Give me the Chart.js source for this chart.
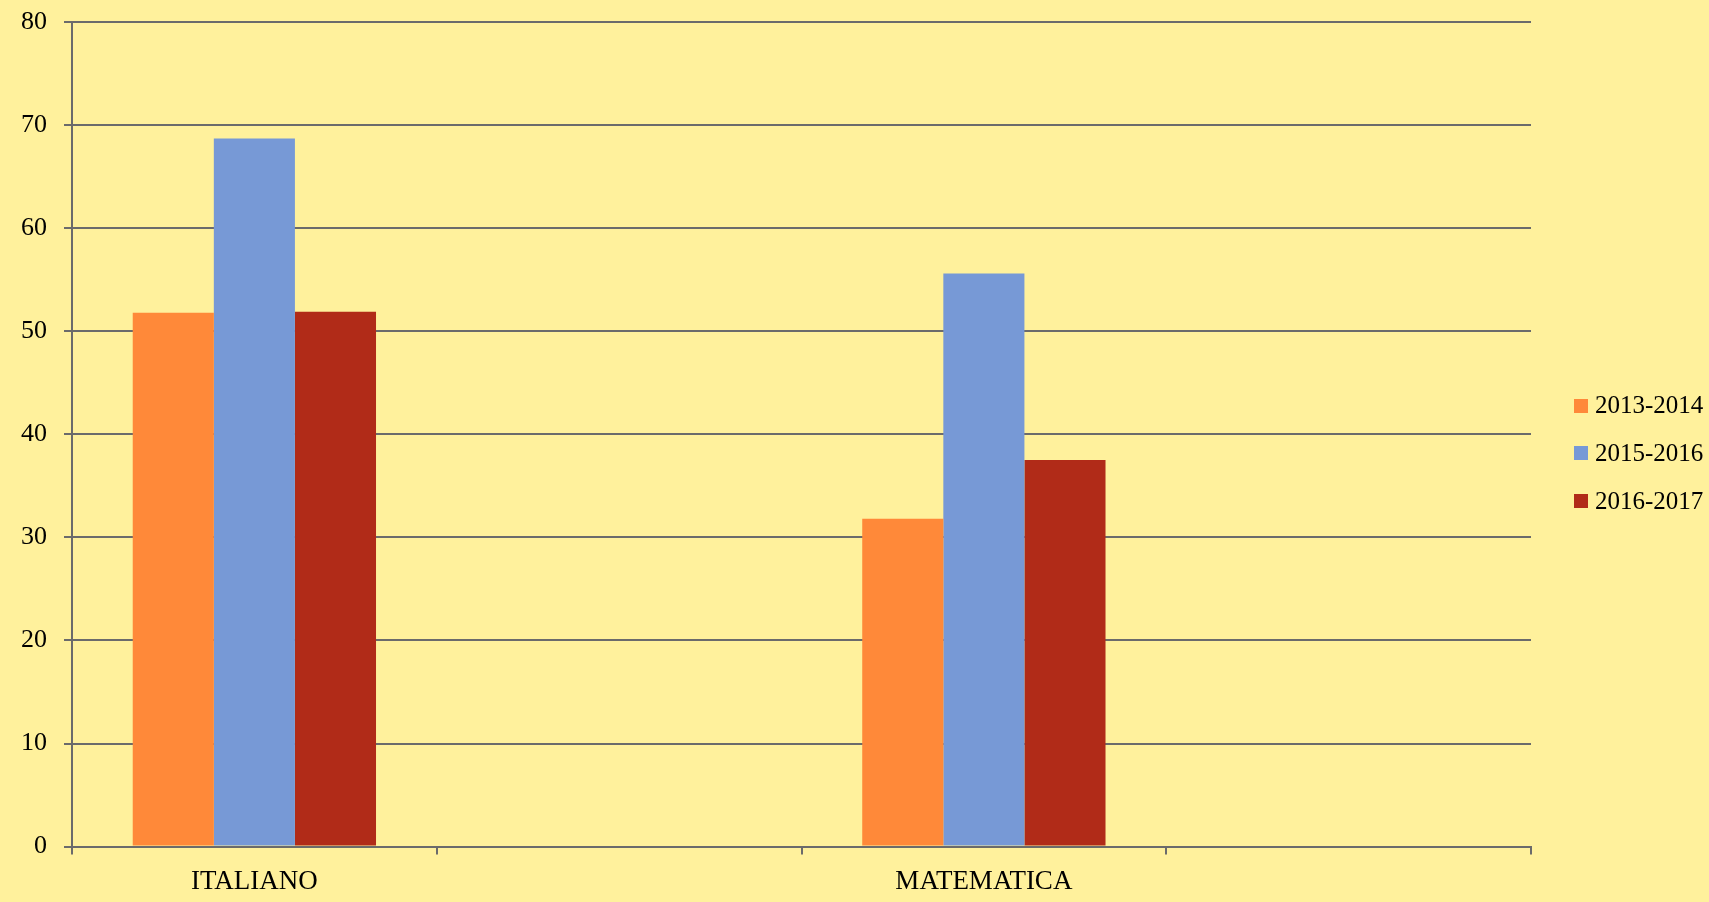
<!DOCTYPE html>
<html>
<head>
<meta charset="utf-8">
<script src="https://cdn.jsdelivr.net/npm/chart.js@4.4.1/dist/chart.umd.min.js"></script>
<style>
  html, body { margin: 0; padding: 0; background: #FFF19C; overflow: hidden; }
  #wrap { width: 1709px; height: 910px; position: relative; }
  #legend { position: absolute; left: 1574px; top: 390px; margin: 0; padding: 0; list-style: none; }
  #legend li { position: relative; height: 47.75px; line-height: 30px; font-family: 'Liberation Serif', serif; font-size: 25px; color: #000; white-space: nowrap; }
  #legend .box { position: absolute; left: 0; top: 8.5px; width: 14px; height: 14px; }
  #legend .txt { position: absolute; left: 21px; top: 0; }
</style>
</head>
<body>
<div id="wrap"><canvas id="c"></canvas><ul id="legend"></ul></div>
<script>
const categories = ['ITALIANO', '', 'MATEMATICA', ''];
const seriesNames = ['2013-2014', '2015-2016', '2016-2017'];
const values2013 = [51.8, null, 31.8, null];
const values2015 = [68.7, null, 55.6, null];
const values2016 = [51.9, null, 37.5, null];
const yTicks = [0, 10, 20, 30, 40, 50, 60, 70, 80];

const colors = ['#FF8939', '#7799D6', '#B12B18'];
const gridColor = '#6B6B6B';

const ctx = document.getElementById('c').getContext('2d');
const chart = new Chart(ctx, {
  type: 'bar',
  data: {
    labels: categories,
    datasets: [values2013, values2015, values2016].map((v, i) => ({
      label: seriesNames[i],
      data: v,
      backgroundColor: colors[i],
      borderWidth: 0,
      categoryPercentage: 0.667,
      barPercentage: 1.0
    }))
  },
  options: {
    responsive: true,
    maintainAspectRatio: false,
    animation: false,
    layout: { padding: { top: 22, left: 0, right: 178, bottom: 0 } },
    plugins: {
      tooltip: { enabled: false },
      legend: { display: false }
    },
    scales: {
      x: {
        offset: true,
        grid: {
          display: true,
          offset: true,
          drawOnChartArea: false,
          drawTicks: true,
          tickLength: 8,
          color: gridColor,
          lineWidth: 2
        },
        border: { display: true, color: gridColor, width: 2 },
        ticks: {
          color: '#000',
          padding: 11.5,
          font: { family: 'Liberation Serif', size: 27 },
          maxRotation: 0,
          autoSkip: false
        }
      },
      y: {
        min: 0,
        max: 80,
        afterBuildTicks: (scale) => { scale.ticks = yTicks.map(v => ({ value: v })); },
        afterFit: (scale) => { scale.width = 72; },
        grid: {
          color: gridColor,
          lineWidth: 2,
          drawTicks: true,
          tickLength: 8
        },
        border: { display: true, color: gridColor, width: 2 },
        ticks: {
          color: '#000',
          padding: 17,
          font: { family: 'Liberation Serif', size: 26, lineHeight: 0.35 }
        }
      }
    }
  }
});

// HTML legend built from the chart's datasets
const legendEl = document.getElementById('legend');
chart.data.datasets.forEach(ds => {
  const li = document.createElement('li');
  const box = document.createElement('span');
  box.className = 'box';
  box.style.background = ds.backgroundColor;
  const txt = document.createElement('span');
  txt.className = 'txt';
  txt.textContent = ds.label;
  li.appendChild(box);
  li.appendChild(txt);
  legendEl.appendChild(li);
});
</script>
</body>
</html>
